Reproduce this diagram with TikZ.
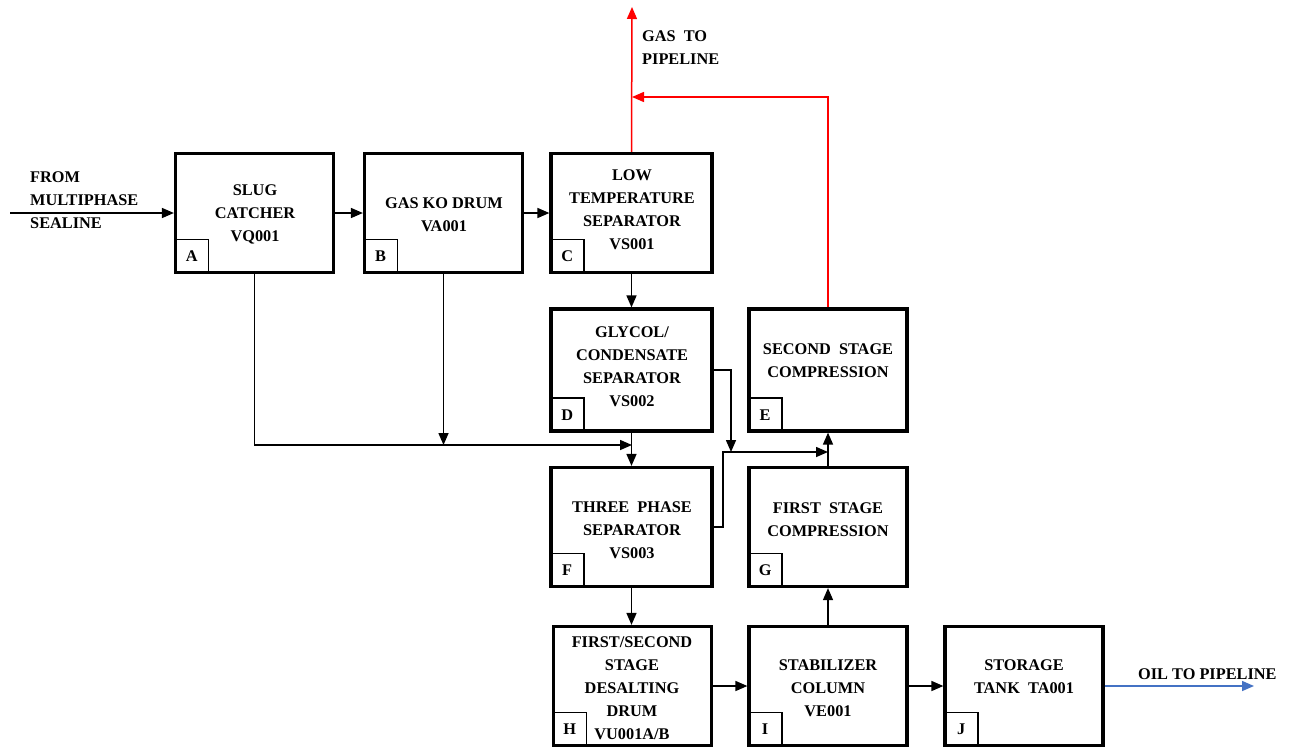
\documentclass[tikz,border=0pt]{standalone}
\usepackage{fontspec}
\setmainfont{Liberation Serif}
\usetikzlibrary{arrows.meta}
\definecolor{oilblue}{RGB}{68,114,196}
\begin{document}
\begin{tikzpicture}[x=1pt,y=-1pt,
  font=\fontsize{16.3}{23}\selectfont\bfseries,
  unit/.style={draw, line width=3.2pt, minimum width=158pt, minimum height=119pt, inner sep=0pt},
  tag/.style={draw, line width=1.5pt, minimum width=34pt, minimum height=34pt, inner sep=0pt, anchor=south west},
  txt/.style={align=center, inner sep=0pt},
  arr/.style={line width=1.5pt, -{Triangle[length=12pt,width=10pt]}},
  redarr/.style={arr, draw=red, -{Triangle[length=12pt,width=10pt,fill=red]}},
  bluearr/.style={arr, draw=oilblue, -{Triangle[length=12pt,width=10pt,fill=oilblue]}}
]
\useasboundingbox (0,0) rectangle (1290,747);

% unit boxes
\node[unit] (A) at (254.5,213) {};
\node[unit] (B) at (443.5,213) {};
\node[unit, minimum width=161pt] (C) at (631.5,213) {};
\node[unit, minimum width=161pt, minimum height=122pt] (D) at (631.5,370) {};
\node[unit, minimum height=122pt] (E) at (828,370) {};
\node[unit, minimum width=161pt] (F) at (631.5,527) {};
\node[unit] (G) at (828,527) {};
\node[unit] (H) at (632.5,686) {};
\node[unit] (I) at (828,686) {};
\node[unit] (J) at (1024,686) {};

% tags
\node[tag] (tA) at (A.south west) {A};
\node[tag] (tB) at (B.south west) {B};
\node[tag] (tC) at (C.south west) {C};
\node[tag] (tD) at (D.south west) {D};
\node[tag] (tE) at (E.south west) {E};
\node[tag] (tF) at (F.south west) {F};
\node[tag] (tG) at (G.south west) {G};
\node[tag] (tH) at (H.south west) {H};
\node[tag] (tI) at (I.south west) {I};
\node[tag] (tJ) at (J.south west) {J};

% texts
\node[txt] (xA) at (255,214) {SLUG\\CATCHER\\VQ001};
\node[txt] (xB) at (444,214.5) {GAS KO DRUM\\VA001};
\node[txt] (xC) at (632,209.5) {LOW\\TEMPERATURE\\SEPARATOR\\VS001};
\node[txt] (xD) at (632,366.5) {GLYCOL/\\CONDENSATE\\SEPARATOR\\VS002};
\node[txt] (xE) at (828,360.5) {SECOND\ \ STAGE\\COMPRESSION};
\node[txt] (xF) at (632,530.5) {THREE\ \ PHASE\\SEPARATOR\\VS003};
\node[txt] (xG) at (828,519.5) {FIRST\ \ STAGE\\COMPRESSION};
\node[txt] (xH) at (632,688) {FIRST/SECOND\\STAGE\\DESALTING\\DRUM\\VU001A/B};
\node[txt] (xI) at (828,688) {STABILIZER\\COLUMN\\VE001};
\node[txt] (xJ) at (1024,676.5) {STORAGE\\TANK\ \ TA001};

\node[txt, align=left, anchor=west] (lin) at (30,200) {FROM\\MULTIPHASE\\SEALINE};
\node[txt, align=left, anchor=west] (lgas) at (642,47.5) {GAS\ \ TO\\PIPELINE};
\node[txt, anchor=west] (loil) at (1138,674) {OIL\ TO PIPELINE};

% coordinates
\coordinate (in) at (10,213);
\coordinate (gas) at (632,7);
\coordinate (gasj) at (632,97);
\coordinate (jF) at (632,445);
\coordinate (jE) at (731,452);
\coordinate (kF) at (723,452);
\coordinate (jG) at (828,452);
\coordinate (oil) at (1254,686);

% connectors
\draw[arr] (in) -- (A.west);
\draw[arr] (A.east) -- (B.west);
\draw[arr] (B.east) -- (C.west);
\draw[redarr] (C.north) -- (gas);
\draw[redarr] (E.north) |- (gasj);
\draw[arr] (C.south) -- (D.north);
\draw[arr] (A.south) |- (jF);
\draw[arr] (B.south) -- (B.south |- jF);
\draw[arr] (D.south) -- (F.north);
\draw[arr] (D.east) -| (jE);
\draw[arr] (F.east) -| (kF) -- (jG);
\draw[arr] (G.north) -- (E.south);
\draw[arr] (F.south) -- (F.south |- H.north);
\draw[arr] (H.east) -- (I.west);
\draw[arr] (I.north) -- (G.south);
\draw[arr] (I.east) -- (J.west);
\draw[bluearr] (J.east) -- (oil);
\end{tikzpicture}
\end{document}
